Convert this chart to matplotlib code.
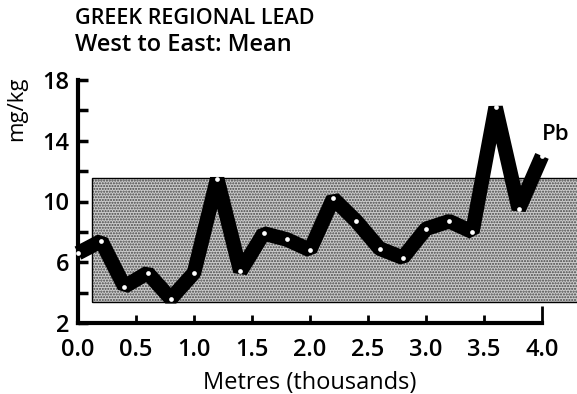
import matplotlib
matplotlib.use("Agg")
import matplotlib.pyplot as plt
from matplotlib.patches import Rectangle

plt.rcParams["font.family"] = ["Open Sans", "DejaVu Sans"]
plt.rcParams["font.weight"] = "semibold"

# Mean lead along the west-east traverse
distance_km = [0.0, 0.2, 0.4, 0.6, 0.8, 1.0, 1.2, 1.4, 1.6, 1.8, 2.0,
               2.2, 2.4, 2.6, 2.8, 3.0, 3.2, 3.4, 3.6, 3.8, 4.0]
lead_mgkg = [6.6, 7.4, 4.4, 5.3, 3.6, 5.3, 11.5, 5.4, 7.9, 7.5, 6.8,
             10.2, 8.7, 6.9, 6.3, 8.2, 8.7, 8.0, 16.2, 9.5, 13.0]

# background range band
band_x = (0.12, 4.32)
band_y = (3.4, 11.55)

y_major = [2, 6, 10, 14, 18]
y_minor = [4, 8, 12, 16]
x_ticks = [0.0, 0.5, 1.0, 1.5, 2.0, 2.5, 3.0, 3.5, 4.0]
x_labels = ["0.0", "0.5", "1.0", "1.5", "2.0", "2.5", "3.0", "3.5", "4.0"]

title_lines = ["GREEK REGIONAL LEAD", "West to East: Mean"]
series_label = "Pb"

fig = plt.figure(figsize=(5.77, 3.94), dpi=100)
ax = fig.add_axes([78 / 577, 71 / 394, 464 / 577, 243 / 394])

ax.set_xlim(0, 4.0)
ax.set_ylim(2, 18)

w, h = band_x[1] - band_x[0], band_y[1] - band_y[0]
ax.add_patch(Rectangle((band_x[0], band_y[0]), w, h,
                       facecolor="#cccccc", edgecolor="#444444", hatch="......",
                       linewidth=0, clip_on=False, zorder=1))
ax.add_patch(Rectangle((band_x[0], band_y[0]), w, h,
                       facecolor="none", edgecolor="black", linewidth=1.0,
                       clip_on=False, zorder=2))

ax.plot(distance_km, lead_mgkg, color="black", linewidth=10.5,
        solid_joinstyle="bevel", solid_capstyle="butt", clip_on=False, zorder=3)
ax.plot(distance_km, lead_mgkg, linestyle="none", marker="o", markersize=3.4,
        markerfacecolor="white", markeredgewidth=0, clip_on=False, zorder=4)

ax.text(4.0, 14.4, series_label, fontsize=16, ha="left", va="center")

for side in ("top", "right"):
    ax.spines[side].set_visible(False)
ax.spines["left"].set_linewidth(3)
ax.spines["bottom"].set_linewidth(3)

ax.set_yticks(y_major)
ax.set_yticks(y_minor, minor=True)
ax.set_xticks(x_ticks)
ax.set_xticklabels(x_labels)
ax.tick_params(axis="y", which="both", direction="in", length=7, width=2.5,
               labelsize=17, pad=6)
ax.tick_params(axis="x", which="major", direction="in", length=6, width=2,
               labelsize=17, pad=11)
ax.xaxis.get_major_ticks()[-1].tick1line.set_markersize(12)

ax.set_xlabel("Metres (thousands)", fontsize=17, labelpad=6)
ax.set_ylabel("mg/kg", fontsize=16)
ax.yaxis.set_label_coords(-0.11, 0.88)

fig.text(75 / 577, 1 - 18 / 394, title_lines[0], fontsize=15.5, ha="left", va="center")
fig.text(75 / 577, 1 - 45 / 394, title_lines[1], fontsize=17, ha="left", va="center")

fig.savefig("out.png", dpi=100)
